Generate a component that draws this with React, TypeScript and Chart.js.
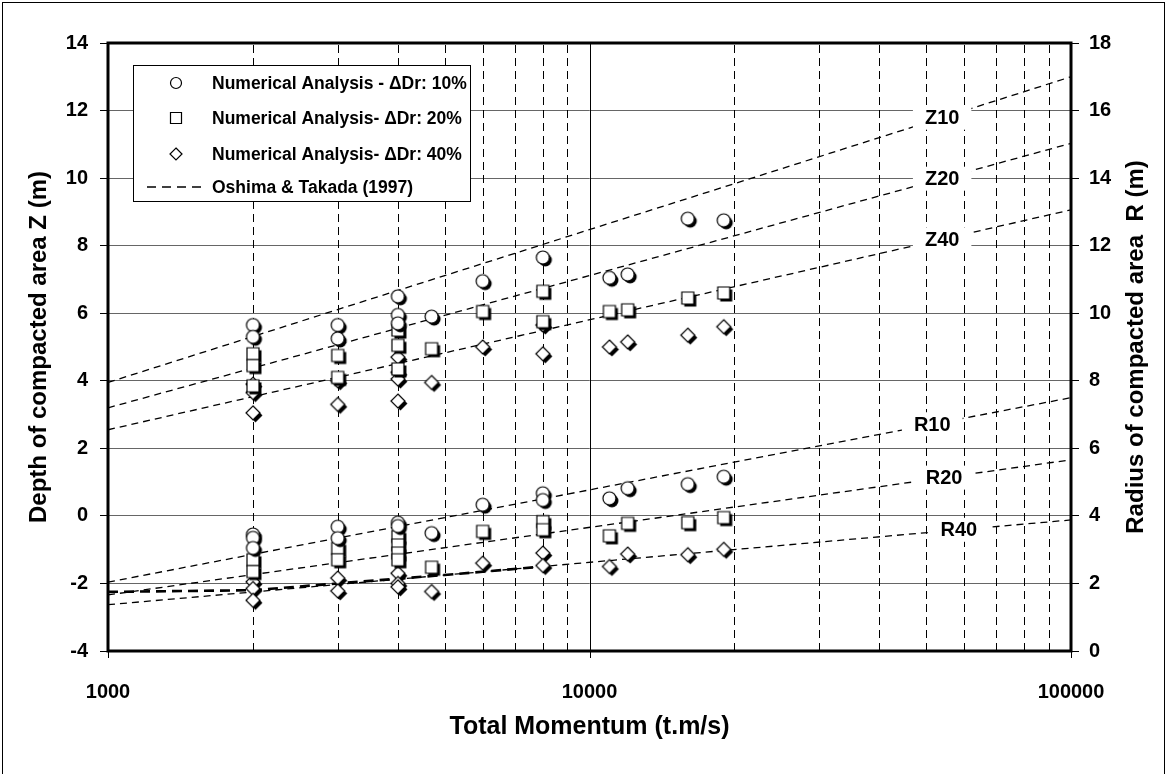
import React, { useEffect, useRef } from 'react';
import { Chart, registerables } from 'chart.js';

Chart.register(...registerables);

const FONT = '"Liberation Sans", Arial, Helvetica, sans-serif';

// ---- Data (Z: depth, left axis; R: radius, right axis) ----
const z10X = [2000, 2000, 3000, 3000, 4000, 4000, 4000, 4700, 6000, 8000, 11000, 12000, 16000, 19000];
const z10Y = [5.65, 5.3, 5.65, 5.25, 6.5, 5.95, 5.7, 5.9, 6.95, 7.65, 7.05, 7.15, 8.8, 8.75];

const z20X = [2000, 2000, 2000, 3000, 3000, 4000, 4000, 4000, 4700, 6000, 8000, 8000, 11000, 12000, 16000, 19000];
const z20Y = [4.8, 4.45, 3.85, 4.75, 4.1, 5.5, 5.05, 4.35, 4.95, 6.05, 6.65, 5.75, 6.05, 6.1, 6.45, 6.6];

const z40X = [2000, 2000, 2000, 3000, 3000, 4000, 4000, 4000, 4000, 4700, 6000, 8000, 8000, 11000, 12000, 16000, 19000];
const z40Y = [3.9, 3.65, 3.05, 4.0, 3.3, 4.7, 4.25, 4.05, 3.4, 3.95, 5.0, 5.65, 4.8, 5.0, 5.15, 5.35, 5.6];

const r10X = [2000, 2000, 2000, 3000, 3000, 4000, 4000, 4700, 6000, 8000, 8000, 11000, 12000, 16000, 19000];
const r10Y = [3.45, 3.35, 3.05, 3.68, 3.34, 3.8, 3.7, 3.49, 4.33, 4.67, 4.47, 4.52, 4.82, 4.94, 5.16];

const r20X = [2000, 2000, 3000, 3000, 4000, 4000, 4000, 4000, 4700, 6000, 8000, 8000, 11000, 12000, 16000, 19000];
const r20Y = [2.7, 2.35, 3.04, 2.7, 3.39, 3.14, 2.9, 2.7, 2.48, 3.54, 3.83, 3.59, 3.41, 3.78, 3.8, 3.95];

const r40X = [2000, 2000, 2000, 3000, 3000, 4000, 4000, 4000, 4700, 6000, 8000, 8000, 11000, 12000, 16000, 19000];
const r40Y = [2.05, 1.85, 1.5, 2.16, 1.78, 2.3, 2.0, 1.9, 1.76, 2.6, 2.9, 2.53, 2.5, 2.87, 2.85, 3.01];

// Oshima & Takada (1997) lines
const trendX = [1000, 100000];
const trendZ10 = [3.95, 13.0];
const trendZ20 = [3.2, 11.03];
const trendZ40 = [2.55, 9.06];
const trendR10 = [2.04, 7.5];
const trendR20 = [1.66, 5.66];
const trendR40 = [1.37, 3.88];
const boldX = [1000, 2000, 3000, 5000, 8000];
const boldR = [1.75, 1.8, 2.0, 2.25, 2.5];

const trendLabels = ['Z10', 'Z20', 'Z40', 'R10', 'R20', 'R40'];
const trendLabelMomentum = [54000, 54000, 54000, 51500, 54500, 58500];

const xTickLabels = [1000, 10000, 100000];
const xMinorGrid = [2000, 3000, 4000, 5000, 6000, 7000, 8000, 9000, 20000, 30000, 40000, 50000, 60000, 70000, 80000, 90000];

const legendLabels = [
  'Numerical Analysis - \u0394Dr: 10%',
  'Numerical Analysis- \u0394Dr: 20%',
  'Numerical Analysis- \u0394Dr: 40%',
  'Oshima & Takada (1997)',
];

const pts = (xs: number[], ys: number[]) => xs.map((x, i) => ({ x, y: ys[i] }));

function shapePath(ctx: CanvasRenderingContext2D, shape: string, cx: number, cy: number, size: number) {
  const r = size / 2;
  ctx.beginPath();
  if (shape === 'circle') {
    ctx.arc(cx, cy, r, 0, Math.PI * 2);
  } else if (shape === 'square') {
    ctx.rect(cx - r, cy - r, size, size);
  } else {
    ctx.moveTo(cx, cy - r);
    ctx.lineTo(cx + r, cy);
    ctx.lineTo(cx, cy + r);
    ctx.lineTo(cx - r, cy);
    ctx.closePath();
  }
}

function makeMarker(shape: string, size: number) {
  const pad = 5;
  const dim = Math.ceil(size + pad * 2);
  const c = document.createElement('canvas');
  c.width = dim;
  c.height = dim;
  const ctx = c.getContext('2d')!;
  const cx = dim / 2;
  const cy = dim / 2;
  shapePath(ctx, shape, cx + 2.5, cy + 2.5, size);
  ctx.fillStyle = '#000';
  ctx.fill();
  shapePath(ctx, shape, cx, cy, size);
  ctx.fillStyle = '#fff';
  ctx.fill();
  ctx.lineWidth = 1.2;
  ctx.strokeStyle = '#000';
  ctx.stroke();
  return c;
}

function lineValueAt(xs: number[], ys: number[], x: number) {
  const lx = Math.log10(x);
  const l0 = Math.log10(xs[0]);
  const l1 = Math.log10(xs[xs.length - 1]);
  return ys[0] + ((ys[ys.length - 1] - ys[0]) * (lx - l0)) / (l1 - l0);
}

export default function App() {
  const ref = useRef<HTMLCanvasElement>(null);

  useEffect(() => {
    document.body.style.margin = '0';
    const canvas = ref.current!;
    const circleImg = makeMarker('circle', 13);
    const squareImg = makeMarker('square', 12);
    const diamondImg = makeMarker('diamond', 14);

    const trendSets = [
      { ys: trendZ10, axis: 'y' },
      { ys: trendZ20, axis: 'y' },
      { ys: trendZ40, axis: 'y' },
      { ys: trendR10, axis: 'y2' },
      { ys: trendR20, axis: 'y2' },
      { ys: trendR40, axis: 'y2' },
    ];

    const scatter = (data: any[], img: HTMLCanvasElement, axis: string) => ({
      type: 'scatter' as const,
      data,
      yAxisID: axis,
      pointStyle: img,
      pointRadius: 7,
      showLine: false,
    });

    const dashed = (data: any[], axis: string, width = 1.3, dash = [7, 5]) => ({
      type: 'line' as const,
      data,
      yAxisID: axis,
      borderColor: '#000',
      borderWidth: width,
      borderDash: dash,
      pointRadius: 0,
      fill: false,
      tension: 0,
    });

    const decor = {
      id: 'decor',
      beforeDraw(chart: any) {
        const ctx = chart.ctx;
        ctx.save();
        ctx.fillStyle = '#fff';
        ctx.fillRect(0, 0, chart.width, chart.height);
        ctx.strokeStyle = '#000';
        ctx.lineWidth = 1;
        ctx.strokeRect(2.5, 2.5, chart.width - 5, chart.height + 10);
        ctx.restore();
      },
      beforeDatasetsDraw(chart: any) {
        const ctx = chart.ctx;
        const { top, bottom } = chart.chartArea;
        const xs = chart.scales.x;
        ctx.save();
        ctx.strokeStyle = '#000';
        ctx.lineWidth = 1;
        ctx.setLineDash([8, 5]);
        xMinorGrid.forEach((v) => {
          const px = Math.round(xs.getPixelForValue(v)) + 0.5;
          ctx.beginPath();
          ctx.moveTo(px, bottom);
          ctx.lineTo(px, top);
          ctx.stroke();
        });
        ctx.setLineDash([]);
        const pm = Math.round(xs.getPixelForValue(10000)) + 0.5;
        ctx.beginPath();
        ctx.moveTo(pm, top);
        ctx.lineTo(pm, bottom);
        ctx.stroke();
        ctx.restore();
      },
      afterDatasetsDraw(chart: any) {
        const ctx = chart.ctx;
        const { left, right, top, bottom } = chart.chartArea;
        const xs = chart.scales.x;
        ctx.save();
        // trend labels
        ctx.font = `bold 20px ${FONT}`;
        ctx.textAlign = 'center';
        ctx.textBaseline = 'middle';
        trendLabels.forEach((t, i) => {
          const set = trendSets[i];
          const mx = trendLabelMomentum[i];
          const val = lineValueAt(trendX, set.ys, mx);
          const px = xs.getPixelForValue(mx);
          const py = chart.scales[set.axis].getPixelForValue(val);
          const w = ctx.measureText(t).width + 24;
          ctx.fillStyle = '#fff';
          ctx.fillRect(px - w / 2, py - 12, w, 24);
          ctx.fillStyle = '#000';
          ctx.fillText(t, px, py + 1);
        });
        // frame
        ctx.strokeStyle = '#000';
        ctx.lineWidth = 3;
        ctx.strokeRect(left, top, right - left, bottom - top);
        // major x ticks
        ctx.lineWidth = 1;
        xTickLabels.forEach((v) => {
          const px = Math.round(xs.getPixelForValue(v)) + 0.5;
          ctx.beginPath();
          ctx.moveTo(px, bottom);
          ctx.lineTo(px, bottom + 7);
          ctx.stroke();
        });
        // legend
        const lx = 133.5, ly = 65.5, lw = 337, lh = 136;
        ctx.fillStyle = '#fff';
        ctx.fillRect(lx, ly, lw, lh);
        ctx.strokeStyle = '#000';
        ctx.lineWidth = 1;
        ctx.strokeRect(lx, ly, lw, lh);
        const rows = [83, 118, 154, 187];
        const shapes = ['circle', 'square', 'diamond'];
        const sizes = [11, 11, 12];
        ctx.font = `bold 17.5px ${FONT}`;
        ctx.textAlign = 'left';
        ctx.textBaseline = 'middle';
        legendLabels.forEach((t, i) => {
          const y = rows[i];
          if (i < 3) {
            shapePath(ctx, shapes[i], 176, y, sizes[i]);
            ctx.fillStyle = '#fff';
            ctx.fill();
            ctx.lineWidth = 1.2;
            ctx.strokeStyle = '#000';
            ctx.stroke();
          } else {
            ctx.save();
            ctx.lineWidth = 1.6;
            ctx.setLineDash([9, 6]);
            ctx.beginPath();
            ctx.moveTo(147, y);
            ctx.lineTo(207, y);
            ctx.stroke();
            ctx.restore();
          }
          ctx.fillStyle = '#000';
          ctx.fillText(t, 212, y + 1);
        });
        // right axis title
        ctx.save();
        ctx.translate(1136, (top + bottom) / 2);
        ctx.rotate(-Math.PI / 2);
        ctx.font = `bold 24px ${FONT}`;
        ctx.textAlign = 'center';
        ctx.textBaseline = 'middle';
        ctx.fillStyle = '#000';
        ctx.fillText('Radius of compacted area  R (m)', 0, 0);
        ctx.restore();
        ctx.restore();
      },
    };

    const chart = new Chart(canvas, {
      type: 'scatter',
      data: {
        datasets: [
          scatter(pts(z10X, z10Y), circleImg, 'y'),
          scatter(pts(z20X, z20Y), squareImg, 'y'),
          scatter(pts(z40X, z40Y), diamondImg, 'y'),
          scatter(pts(r10X, r10Y), circleImg, 'y2'),
          scatter(pts(r20X, r20Y), squareImg, 'y2'),
          scatter(pts(r40X, r40Y), diamondImg, 'y2'),
          ...trendSets.map((s) => dashed(pts(trendX, s.ys), s.axis)),
          dashed(pts(boldX, boldR), 'y2', 2.6, [10, 6]),
        ] as any,
      },
      options: {
        responsive: false,
        animation: false,
        devicePixelRatio: 1,
        layout: { padding: { top: 43, left: 0, right: 0, bottom: 0 } },
        plugins: { legend: { display: false }, tooltip: { enabled: false } },
        scales: {
          x: {
            type: 'logarithmic',
            min: 1000,
            max: 100000,
            position: 'bottom',
            afterFit: (s: any) => { s.height = 123; },
            grid: { display: false, drawTicks: false },
            border: { display: false },
            ticks: {
              autoSkip: false,
              maxRotation: 0,
              padding: 29,
              color: '#000',
              font: { family: FONT, size: 20, weight: 'bold' },
              callback: (v: any) => (xTickLabels.includes(Number(v)) ? String(v) : ''),
            },
            title: {
              display: true,
              text: 'Total Momentum (t.m/s)',
              color: '#000',
              font: { family: FONT, size: 25, weight: 'bold' },
              padding: { top: 0, bottom: 32 },
            },
          },
          y: {
            type: 'linear',
            position: 'left',
            min: -4,
            max: 14,
            afterFit: (s: any) => { s.width = 108; },
            grid: { color: '#666', lineWidth: 1, tickLength: 8, tickColor: '#000', drawTicks: true },
            border: { display: false },
            ticks: { stepSize: 2, padding: 12, color: '#000', font: { family: FONT, size: 20, weight: 'bold' } },
            title: {
              display: true,
              text: 'Depth of compacted area Z (m)',
              color: '#000',
              font: { family: FONT, size: 24, weight: 'bold' },
              padding: { top: 25, bottom: 0 },
            },
          },
          y2: {
            type: 'linear',
            position: 'right',
            min: 0,
            max: 18,
            afterFit: (s: any) => { s.width = 96; },
            grid: { drawOnChartArea: false, tickLength: 8, tickColor: '#000', drawTicks: true },
            border: { display: false },
            ticks: { stepSize: 2, padding: 10, color: '#000', font: { family: FONT, size: 20, weight: 'bold' } },
          },
        },
      } as any,
      plugins: [decor],
    });
    return () => chart.destroy();
  }, []);

  return (
    <div style={{ width: 1167, height: 774 }}>
      <canvas ref={ref} width={1167} height={774} style={{ display: 'block' }} />
    </div>
  );
}
